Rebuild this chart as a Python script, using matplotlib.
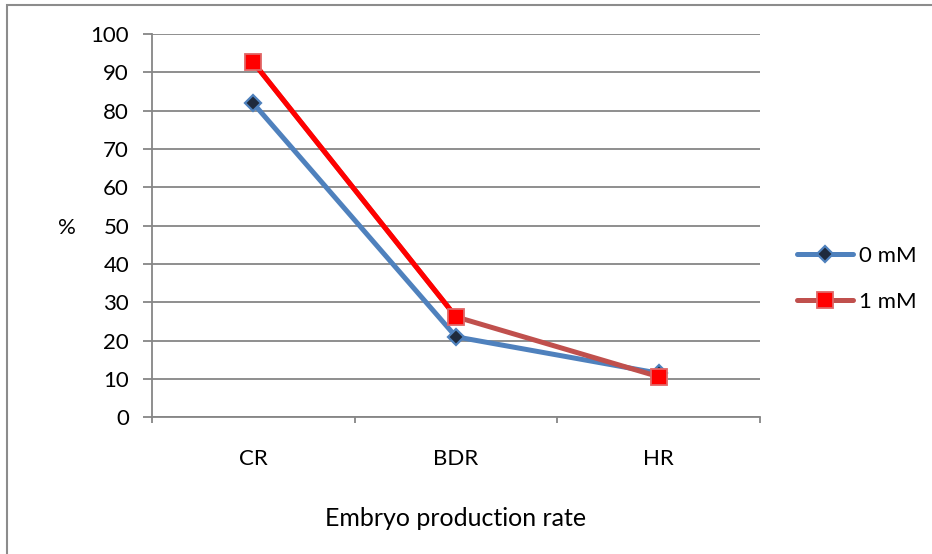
import matplotlib.pyplot as plt
from matplotlib.lines import Line2D
from matplotlib.patches import Rectangle

plt.rcParams['font.family'] = ['Lato', 'DejaVu Sans']

categories = ['CR', 'BDR', 'HR']
rate_0mM = [81.9, 21.0, 11.5]  # % embryo production, 0 mM
rate_1mM = [92.6, 26.2, 10.6]  # % embryo production, 1 mM
y_ticks = [0, 10, 20, 30, 40, 50, 60, 70, 80, 90, 100]

blue = '#4F81BD'
dark_red = '#C0504D'
red = '#FF0000'
grid_grey = '#868686'

fig = plt.figure(figsize=(9.32, 5.54), dpi=100)
ax = fig.add_axes([152/932, 1 - 417.3/554, (760 - 152)/932, (417.3 - 34)/554])

x = list(range(len(categories)))

# 0 mM series
ax.plot(x, rate_0mM, color=blue, lw=3.6, marker='D', ms=8.5,
        mfc='#1F2A3C', mec=blue, mew=1.6, zorder=3, solid_capstyle='round')
# 1 mM series: first segment drawn bright red, rest in dark red
ax.plot(x, rate_1mM, color=dark_red, lw=3.6, zorder=4, solid_capstyle='round')
ax.plot(x[:2], rate_1mM[:2], color=red, lw=3.6, zorder=4, solid_capstyle='round')
ax.plot(x, rate_1mM, ls='none', marker='s', ms=12, mfc=red,
        mec='#E06666', mew=1.3, zorder=5)

ax.set_xlim(-0.5, len(categories) - 0.5)
ax.set_ylim(0, 100)
ax.set_yticks(y_ticks)
ax.set_xticks(x)
ax.set_xticklabels(categories)
ax.set_xticks([i - 0.5 for i in range(len(categories) + 1)], minor=True)

ax.yaxis.grid(True, color=grid_grey, lw=1.3)
ax.set_axisbelow(True)
for side in ['top', 'right']:
    ax.spines[side].set_visible(False)
for side in ['left', 'bottom']:
    ax.spines[side].set_color(grid_grey)
    ax.spines[side].set_linewidth(1.3)

ax.tick_params(axis='y', length=6.5, width=1.3, color=grid_grey, pad=10, labelsize=16)
ax.tick_params(axis='x', which='major', length=0, pad=23, labelsize=16)
ax.tick_params(axis='x', which='minor', length=4.5, width=1.3, color=grid_grey)

fig.text(67/932, 1 - 228/554, '%', fontsize=16, ha='center', va='center')
fig.text(456/932, 1 - 518/554, 'Embryo production rate', fontsize=18,
         ha='center', va='center')

handles = [
    Line2D([], [], color=blue, lw=3.6, marker='D', ms=8.5, mfc='#1F2A3C',
           mec=blue, mew=1.6, solid_capstyle='round'),
    Line2D([], [], color=dark_red, lw=3.6, marker='s', ms=12, mfc=red,
           mec='#E06666', mew=1.3, solid_capstyle='round'),
]
fig.legend(handles, ['0 mM', '1 mM'], loc='center left',
           bbox_to_anchor=(786/932, 1 - 279/554), frameon=False, fontsize=16,
           handlelength=2.5, handletextpad=0.3, labelspacing=1.15, borderpad=0)

# outer chart border (right and bottom edges fall outside the image)
fig.patches.append(Rectangle((7/932, -0.1), 2, 1.1 - 5.5/554, transform=fig.transFigure,
                             fill=False, edgecolor='#8C8C8C', lw=1.5))

fig.savefig('out.png', dpi=100)
